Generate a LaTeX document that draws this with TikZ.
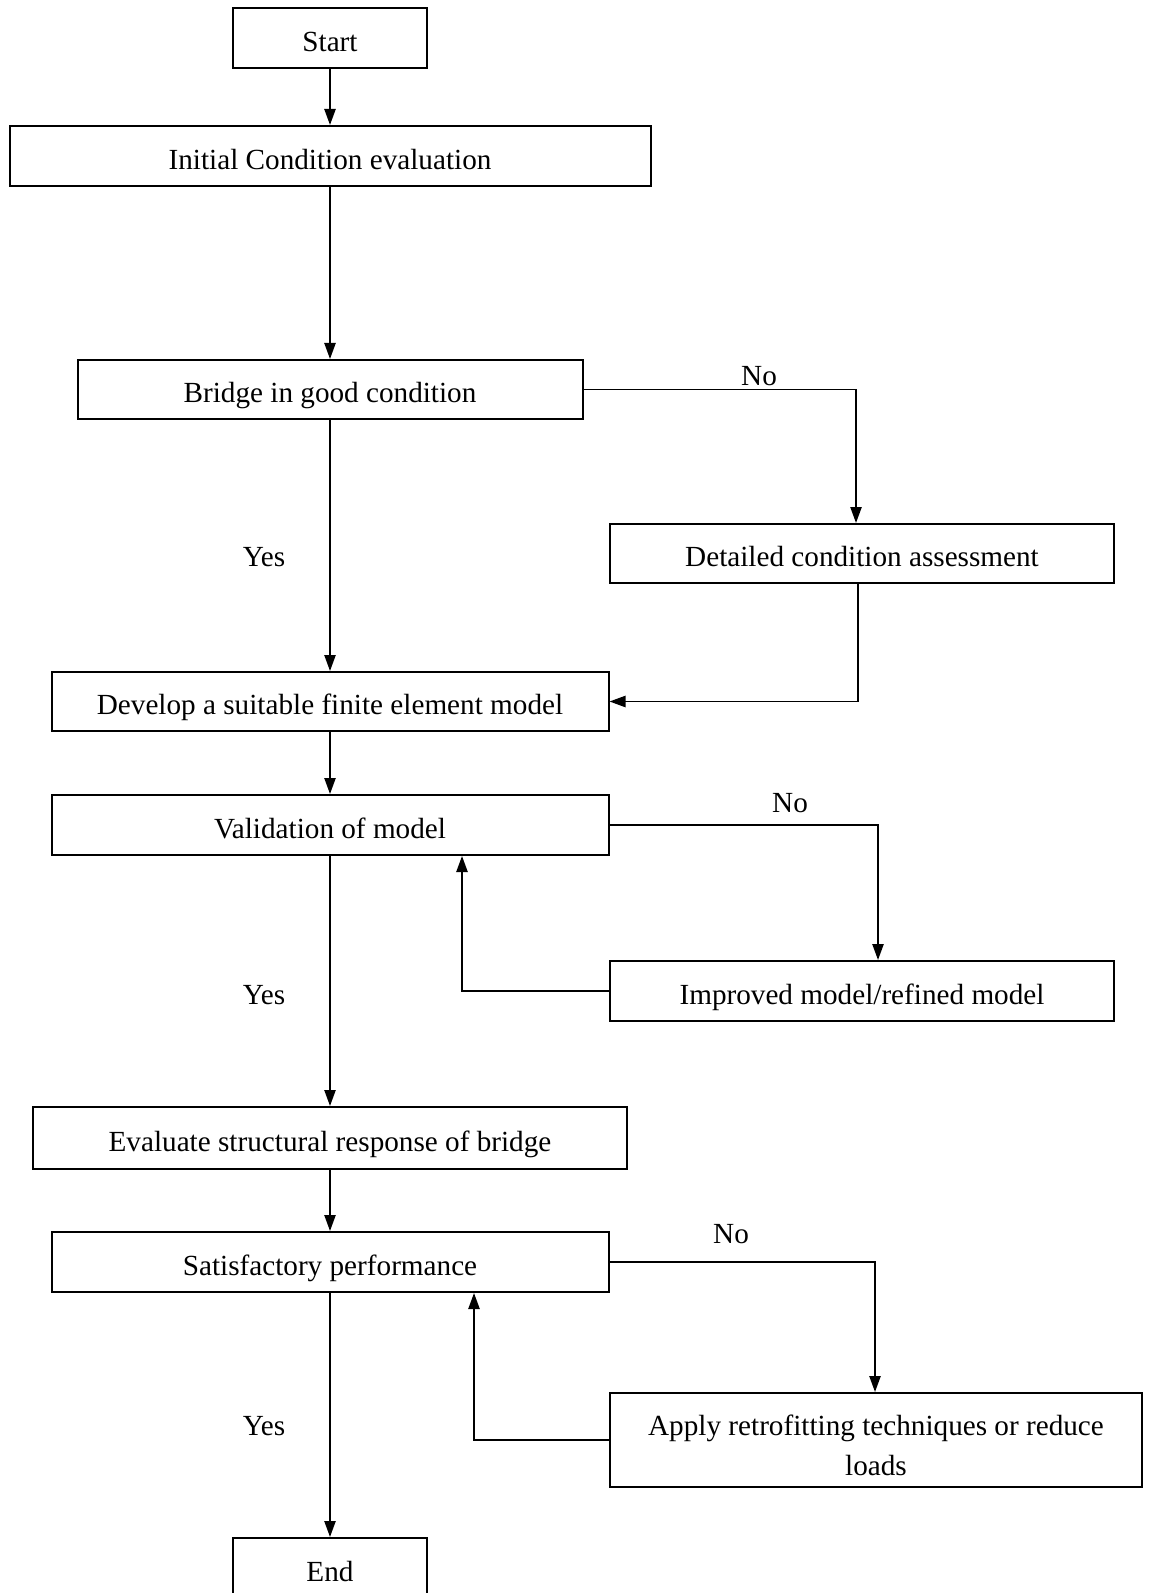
\documentclass[tikz,border=0pt]{standalone}
\usepackage{fontspec}
\setmainfont{Liberation Serif}
\usetikzlibrary{arrows.meta}
\begin{document}
\begin{tikzpicture}[x=0.5pt,y=-0.5pt,
  boxbase/.style={draw, line width=1pt, inner sep=0pt, font=\fontsize{14.6}{20}\selectfont, align=center},
  box/.style={boxbase, text height=13.4pt, text depth=0pt},
  arr/.style={line width=0.9pt, -{Triangle[length=8pt,width=5.6pt]}},
  lbl/.style={font=\fontsize{14.6}{20}\selectfont}]
\useasboundingbox (0,0) rectangle (1149,1593);
\clip (0,0) rectangle (1149,1593);
\node[box, minimum width=97pt, minimum height=30pt] (start) at (330,38) {Start};
\node[box, minimum width=320.5pt, minimum height=30pt] (init) at (330,156) {Initial Condition evaluation};
\node[box, minimum width=252.5pt, minimum height=29.5pt] (bridge) at (330,389.5) {Bridge in good condition};
\node[box, minimum width=252pt, minimum height=29.5pt] (detail) at (862,553.5) {Detailed condition assessment};
\node[box, minimum width=278.5pt, minimum height=29.5pt] (develop) at (330,701.5) {Develop a suitable finite element model};
\node[box, minimum width=278.5pt, minimum height=30pt] (valid) at (330,825) {Validation of model};
\node[box, minimum width=252pt, minimum height=30pt] (improve) at (862,991) {Improved model/refined model};
\node[box, minimum width=297pt, minimum height=31pt] (eval) at (330,1138) {Evaluate structural response of bridge};
\node[box, minimum width=278.5pt, minimum height=30pt] (sat) at (330,1262) {Satisfactory performance};
\node[boxbase, minimum width=266pt, minimum height=47pt] (apply) at (876,1440) {\rule{0pt}{16pt}Apply retrofitting techniques or reduce\\loads};
\node[box, minimum width=97pt, minimum height=30pt] (end) at (330,1568) {End};

\node[lbl] (no1) at (759,376) {No};
\node[lbl] (yes1) at (264,557) {Yes};
\node[lbl] (no2) at (790,803) {No};
\node[lbl] (yes2) at (264,995) {Yes};
\node[lbl] (no3) at (731,1234) {No};
\node[lbl] (yes3) at (264,1426) {Yes};

\coordinate (k1) at (856,0);
\coordinate (k2) at (858,0);
\coordinate (k3) at (878,0);
\coordinate (k4) at (462,0);
\coordinate (k5) at (875,0);
\coordinate (k6) at (474,0);

\draw[arr] (start) -- (init);
\draw[arr] (init) -- (bridge);
\draw[arr] (bridge) -- (develop);
\draw[arr] (bridge.east) -| (k1 |- detail.north);
\draw[arr] (k2 |- detail.south) |- (develop.east);
\draw[arr] (develop) -- (valid);
\draw[arr] (valid.east) -| (k3 |- improve.north);
\draw[arr] (improve.west) -| (k4 |- valid.south);
\draw[arr] (valid) -- (eval);
\draw[arr] (eval) -- (sat);
\draw[arr] (sat.east) -| (k5 |- apply.north);
\draw[arr] (apply.west) -| (k6 |- sat.south);
\draw[arr] (sat) -- (end);
\end{tikzpicture}
\end{document}
